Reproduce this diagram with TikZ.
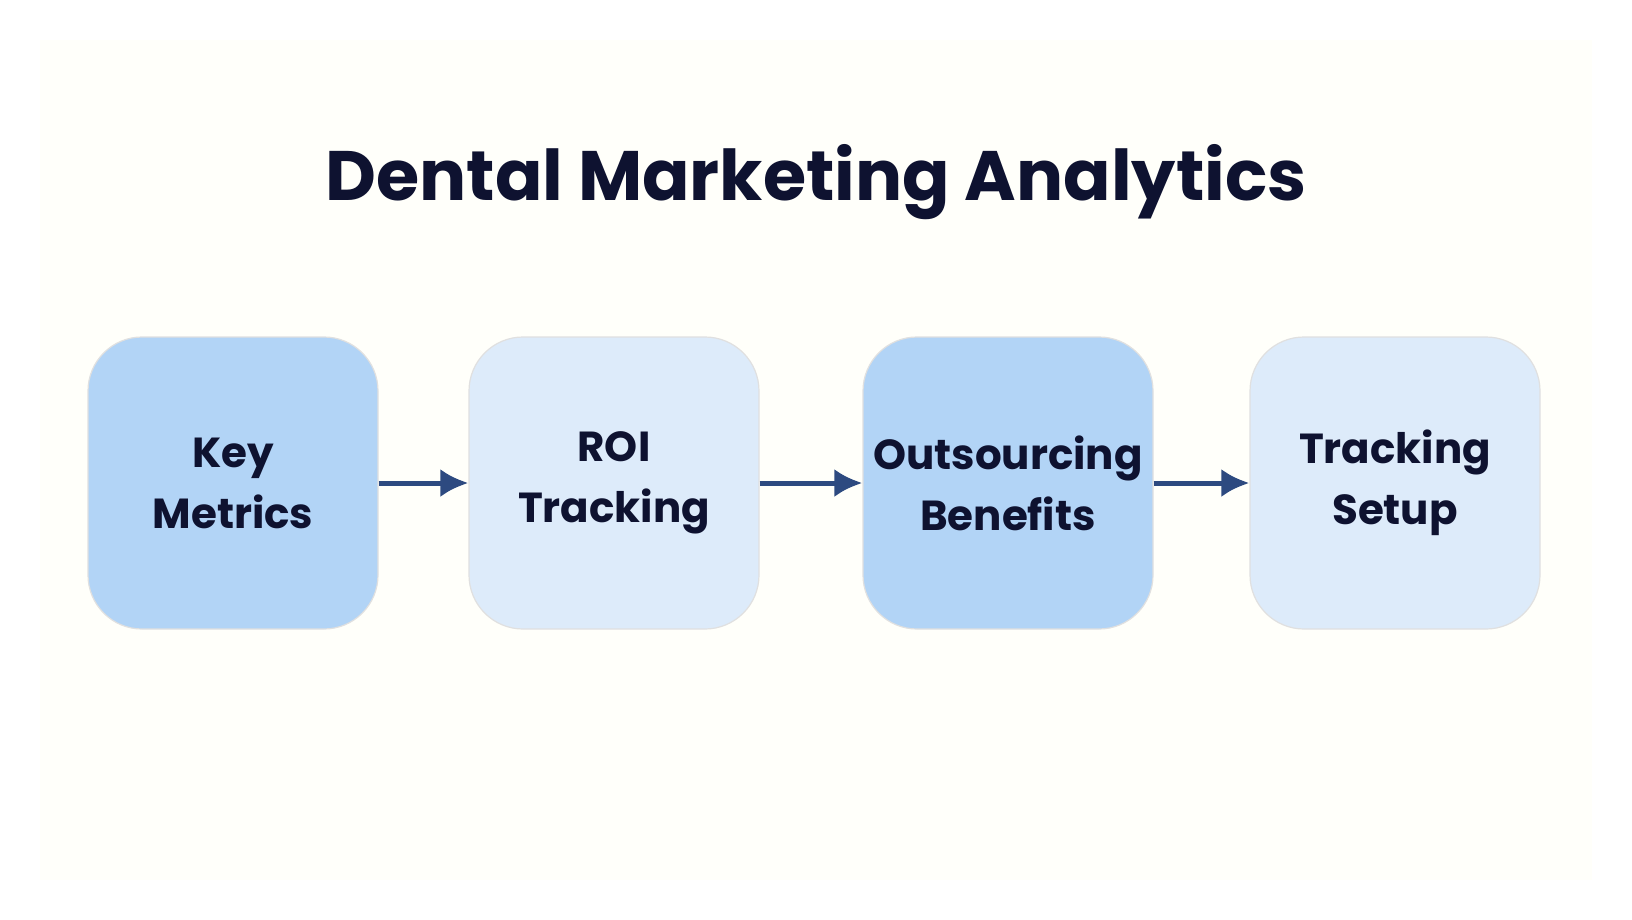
\documentclass[tikz,border=0pt]{standalone}
\usepackage{fontspec}
\setmainfont{Poppins}
\usetikzlibrary{arrows.meta}
\definecolor{dk}{HTML}{B2D4F6}
\definecolor{lt}{HTML}{DDEBFA}
\definecolor{ar}{HTML}{2D4A80}
\definecolor{tx}{HTML}{0E1230}
\begin{document}
\begin{tikzpicture}[x=0.5pt,y=-0.5pt,
  box/.style={rounded corners=27pt,draw=black!12,line width=0.6pt,minimum width=145pt,minimum height=146pt,align=center,font=\fontsize{21}{30.5}\selectfont\bfseries,text=tx},
  dark/.style={box,fill=dk},
  light/.style={box,fill=lt},
  arr/.style={-{Latex[length=14pt,width=14pt]},line width=2.5pt,draw=ar}]
\fill[white] (0,0) rectangle (1632,920);
\fill[black!3!yellow!2!white] (40,40) rectangle (1592,880);
\node[font=\fontsize{35}{40}\selectfont\bfseries,text=tx] (t) at (816,182) {Dental Marketing Analytics};
\node[dark] (a) at (233,483) {Key\\Metrics};
\node[light] (b) at (614,483) {ROI\\Tracking};
\node[dark] (c) at (1008,483) {Outsourcing\\Benefits};
\node[light] (d) at (1395,483) {Tracking\\Setup};
\draw[arr] (a) -- (b);
\draw[arr] (b) -- (c);
\draw[arr] (c) -- (d);
\end{tikzpicture}
\end{document}
